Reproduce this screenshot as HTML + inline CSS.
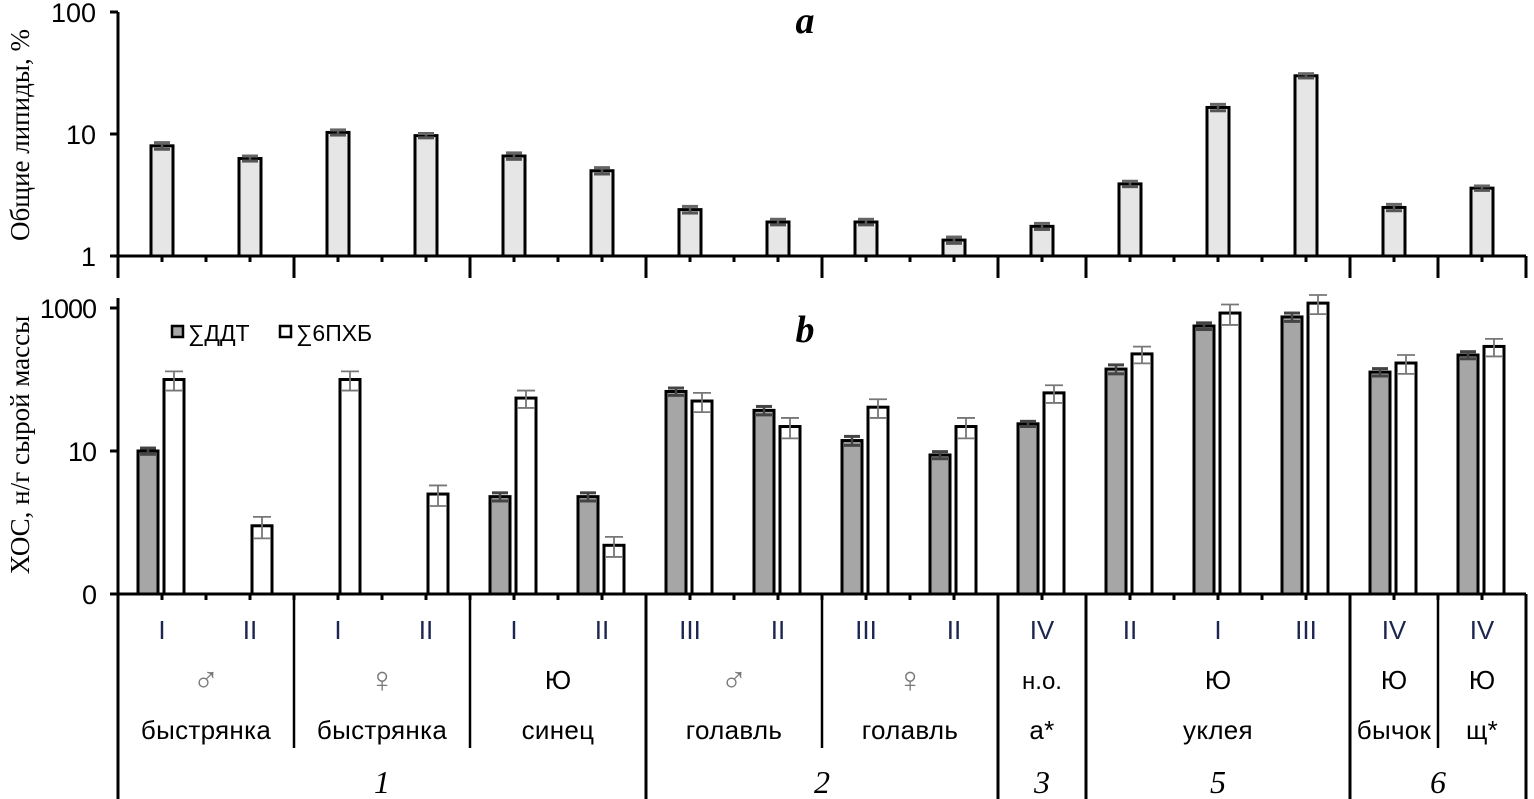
<!DOCTYPE html>
<html><head><meta charset="utf-8">
<style>
html,body{margin:0;padding:0;background:#fff;}
svg{display:block;}
.sans{font-family:"Liberation Sans","DejaVu Sans",sans-serif;}
.serif{font-family:"Liberation Serif","DejaVu Serif",serif;}
</style></head>
<body>
<svg id="chart" width="1534" height="799" viewBox="0 0 1534 799" xmlns="http://www.w3.org/2000/svg">
  <g id="static">
    <text class="serif" x="805" y="33" font-size="38" font-weight="bold" font-style="italic" text-anchor="middle">a</text>
    <text class="serif" x="805" y="342" font-size="38" font-weight="bold" font-style="italic" text-anchor="middle">b</text>
    <text class="serif" font-size="27" text-anchor="middle" transform="translate(29,135) rotate(-90)">Общие липиды, %</text>
    <text class="serif" font-size="27" text-anchor="middle" transform="translate(29,445) rotate(-90)">ХОС, н/г сырой массы</text>
    <g>
      <rect x="172" y="326" width="11" height="11" fill="#a6a6a6" stroke="#000" stroke-width="2.5"/>
      <text class="sans" x="188" y="341" font-size="23">∑ДДТ</text>
      <rect x="280" y="326" width="11" height="11" fill="#fff" stroke="#000" stroke-width="2.5"/>
      <text class="sans" x="296" y="341" font-size="23">∑6ПХБ</text>
    </g>
  </g>
  <g id="marks"></g>
</svg>
<script>
// ---- data ----
const romans = ["I","II","I","II","I","II","III","II","III","II","IV","II","I","III","IV","IV"];
const lipids = [8, 6.3, 10.3, 9.7, 6.6, 5, 2.4, 1.9, 1.9, 1.35, 1.75, 3.9, 16.5, 30, 2.5, 3.6];
const lipidsErr = [0.5, 0.3, 0.5, 0.4, 0.4, 0.3, 0.15, 0.1, 0.1, 0.08, 0.1, 0.2, 1.0, 1.2, 0.15, 0.15];
const ddt = [10, null, null, null, 2.3, 2.3, 68, 37, 14, 8.8, 24, 140, 560, 750, 127, 220];
const ddtErr = [1, null, null, null, 0.3, 0.3, 8, 5, 2, 1, 2, 20, 60, 100, 15, 25];
const pcb = [100, 0.9, 100, 2.5, 55, 0.48, 50, 22, 41, 22, 65, 228, 850, 1170, 170, 290];
const pcbErr = [30, 0.3, 30, 0.8, 15, 0.15, 15, 7, 12, 7, 18, 60, 270, 350, 50, 80];
const topTicks = ["1","10","100"];
const botTicks = ["0","10","1000"];
const sexLabels = [["♂",0,2],["♀",2,4],["Ю",4,6],["♂",6,8],["♀",8,10],["н.о.",10,11],["Ю",11,14],["Ю",14,15],["Ю",15,16]];
const speciesLabels = [["быстрянка",0,2],["быстрянка",2,4],["синец",4,6],["голавль",6,8],["голавль",8,10],["а*",10,11],["уклея",11,14],["бычок",14,15],["щ*",15,16]];
const groupLabels = [["1",0,6],["2",6,10],["3",10,11],["5",11,14],["6",14,16]];

// ---- scales ----
const X0 = 118, BW = 88;
const xc = i => X0 + BW*(i+0.5);
const xb = k => X0 + BW*k;
const yTop = v => 256 - 122*Math.log10(v);
const yBot = v => 594 - 71.5*(Math.log10(v)+1);

const NS = "http://www.w3.org/2000/svg";
const g = document.getElementById("marks");
function mk(tag, attrs, parent){
  const e = document.createElementNS(NS, tag);
  for (const k in attrs) e.setAttribute(k, attrs[k]);
  (parent||g).appendChild(e);
  return e;
}
function line(x1,y1,x2,y2,stroke,w){ return mk("line",{x1,y1,x2,y2,stroke,"stroke-width":w}); }
function txt(x,y,s,size,cls,extra){
  const t = mk("text", Object.assign({x,y,"font-size":size,"class":cls,"text-anchor":"middle"}, extra||{}));
  t.textContent = s; return t;
}

// ---- axes ----
let e;
e = line(X0,12,X0,278,"#000",3);


e = line(X0,256,1526,256,"#000",3);


e = line(X0,298,X0,799,"#000",3);


e = line(X0,594,1526,594,"#000",3);



topTicks.forEach(s=>{
  const y = yTop(+s);
  line(X0-8,y,X0,y,"#000",3);
  e = txt(96,y+10,s,27,"sans",{"text-anchor":"end"});
  
  
});
botTicks.forEach(s=>{
  const v = s==="0" ? 0.1 : +s;
  const y = yBot(v);
  line(X0-8,y,X0,y,"#000",3);
  e = txt(96,y+10,s,27,"sans",{"text-anchor":"end","letter-spacing":"-1"});
  
  
});

// minor ticks
for (let k=0;k<=32;k++){
  const x = X0 + BW*k/2;
  line(x,256,x,262,"#000",3);
  line(x,594,x,600,"#000",3);
}
// long separators top panel
[2,4,6,8,10,11,14,15,16].forEach(k=>{ line(xb(k),256,xb(k),278,"#000",3); });
// table separators
[2,4,8,15].forEach(k=>{
  e = line(xb(k),594,xb(k),748,"#000",2.5);
  
  
});
[6,10,11,14,16].forEach(k=>{
  e = line(xb(k),594,xb(k),799,"#000",3);
  
  
});

// ---- panel a bars ----
lipids.forEach((v,i)=>{
  const x = xc(i), y = yTop(v);
  e = mk("rect",{x:x-11,y:y,width:22,height:256-y,fill:"#e6e6e6",stroke:"#000","stroke-width":3});
  
  
  const y1 = yTop(v+lipidsErr[i]), y2 = yTop(v-lipidsErr[i]);
  line(x,y1,x,y2,"#555",2.5);
  line(x-8,y1,x+8,y1,"#666",3);
  line(x-8,y2,x+8,y2,"#555",3);
});

// ---- panel b bars ----
ddt.forEach((v,i)=>{
  if (v===null) return;
  const x = xc(i)-14, y = yBot(v);
  e = mk("rect",{x:x-10,y:y,width:20,height:594-y,fill:"#a6a6a6",stroke:"#000","stroke-width":3});
  
  
  const y1 = yBot(v+ddtErr[i]), y2 = yBot(v-ddtErr[i]);
  line(x,y1,x,y2,"#444",2.5);
  line(x-8,y1,x+8,y1,"#444",3);
  line(x-8,y2,x+8,y2,"#444",3);
});
pcb.forEach((v,i)=>{
  const x = xc(i)+12, y = yBot(v);
  e = mk("rect",{x:x-10,y:y,width:20,height:594-y,fill:"#fff",stroke:"#000","stroke-width":3});
  
  
  const y1 = yBot(v+pcbErr[i]), y2 = yBot(v-pcbErr[i]);
  line(x,y1,x,y2,"#777",1.8);
  line(x-9,y1,x+9,y1,"#777",1.8);
  line(x-9,y2,x+9,y2,"#777",1.8);
});

// ---- category labels ----
romans.forEach((s,i)=>{
  e = txt(xc(i),639,s,26,"sans",{fill:"#1c2550"});
  
  
});
sexLabels.forEach(([s,a,b])=>{
  const sym = (s==="♂"||s==="♀");
  e = txt((xb(a)+xb(b))/2,sym?692:689,s,sym?36:(s.length>1?24:26),sym?"serif":"sans",{fill:sym?"#777":"#000"});
  
  
});
speciesLabels.forEach(([s,a,b])=>{
  e = txt((xb(a)+xb(b))/2,739,s,26,"sans",{"letter-spacing":"0.3"});
  
  
});
groupLabels.forEach(([s,a,b])=>{
  e = txt((xb(a)+xb(b))/2,793,s,32,"serif",{"font-style":"italic"});
  
  
});
</script>
</body></html>
